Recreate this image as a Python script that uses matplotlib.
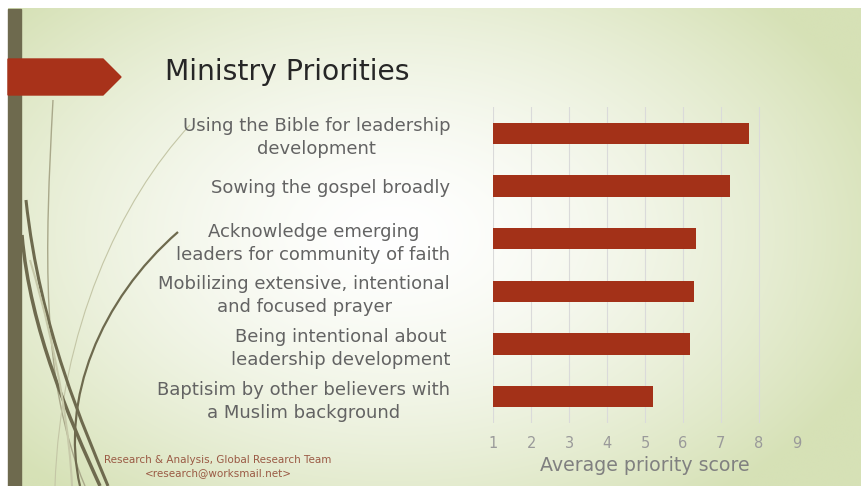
import numpy as np
import matplotlib
matplotlib.use("Agg")
import matplotlib.pyplot as plt
from matplotlib.path import Path
from matplotlib.patches import PathPatch, Polygon, Rectangle

# 数据
categories = ["Using the Bible for leadership\ndevelopment",
              "Sowing the gospel broadly",
              "Acknowledge emerging\nleaders for community of faith",
              "Mobilizing extensive, intentional\nand focused prayer",
              "Being intentional about\nleadership development",
              "Baptisim by other believers with\na Muslim background"]
scores = [7.73, 7.24, 6.34, 6.28, 6.19, 5.2]
xticks = [1, 2, 3, 4, 5, 6, 7, 8, 9]

W, H = 861, 486
fig = plt.figure(figsize=(W / 100, H / 100), dpi=100)
fig.patch.set_facecolor("white")

# 背景 (像素坐标)
bg = fig.add_axes([0, 0, 1, 1])
bg.set_xlim(0, W)
bg.set_ylim(H, 0)
bg.axis("off")
yy, xx = np.mgrid[0:H, 0:W]
d = np.sqrt(((xx - 390) / 520.0) ** 2 + ((yy - 230) / 340.0) ** 2)
t = np.clip(d, 0, 1) ** 1.5
c0 = np.array([1.0, 1.0, 1.0])
c1 = np.array([0xd6, 0xe1, 0xb6]) / 255.0
img = c0[None, None, :] * (1 - t[..., None]) + c1[None, None, :] * t[..., None]
bg.imshow(img, extent=(8, W, H, 9), zorder=0, aspect="auto")
bg.add_patch(Rectangle((8, 9), 13, H - 9, color="#6e6a4e", zorder=3))
bg.add_patch(Polygon([(8, 59), (103, 59), (121, 77), (103, 95), (8, 95)],
                     closed=True, color="#a8321a", zorder=4))

# 装饰曲线
curves = [
    ([(53, 100), (45, 250), (40, 380), (85, 486)], 1.0, "#a9a88a"),
    ([(190, 125), (120, 200), (60, 330), (55, 486)], 0.8, "#c4c6a6"),
    ([(22, 235), (30, 330), (70, 420), (100, 486)], 2.5, "#6e6a4e"),
    ([(26, 200), (40, 330), (85, 430), (108, 486)], 2.2, "#6e6a4e"),
    ([(178, 232), (100, 300), (60, 400), (80, 486)], 1.6, "#6e6a4e"),
    ([(30, 260), (60, 360), (70, 440), (72, 486)], 1.5, "#c7c9a9"),
]
for pts, lw, col in curves:
    p = Path(pts, [Path.MOVETO, Path.CURVE4, Path.CURVE4, Path.CURVE4])
    bg.add_patch(PathPatch(p, fill=False, lw=lw, edgecolor=col, zorder=2))

bg.text(165, 72, "Ministry Priorities", fontsize=20.3, color="#262626",
        va="center", ha="left", zorder=5)
bg.text(218, 460, "Research & Analysis, Global Research Team", fontsize=7.5,
        color="#9a5a44", ha="center", va="center", zorder=5)
bg.text(218, 473, "<research@worksmail.net>", fontsize=7.5,
        color="#9a5a44", ha="center", va="center", zorder=5)

# 图表
ax = fig.add_axes([493.3 / W, 1 - 423 / H, (796.7 - 493.3) / W, 316 / H])
ax.patch.set_alpha(0)
y = np.arange(len(categories))
ax.barh(y, scores, height=0.4, color="#a33118", zorder=3)
ax.set_xlim(1, 9)
ax.set_ylim(len(categories) - 0.5, -0.5)
ax.set_xticks(xticks)
ax.set_xticklabels([str(v) for v in xticks], color="#9a9a9a", fontsize=10.5)
ax.set_yticks(y)
ax.set_yticklabels(categories, color="#636363", fontsize=13)
for lab in ax.get_yticklabels():
    lab.set_multialignment("center")
    lab.set_linespacing(1.35)
ax.tick_params(axis="both", length=0)
ax.tick_params(axis="x", pad=9)
ax.tick_params(axis="y", pad=31)
ax.grid(axis="x", color="#dadada", lw=0.8, zorder=0)
for s in ax.spines.values():
    s.set_visible(False)
ax.set_xlabel("Average priority score", color="#808080", fontsize=13.7, labelpad=4)

fig.savefig("out.png", dpi=100)
